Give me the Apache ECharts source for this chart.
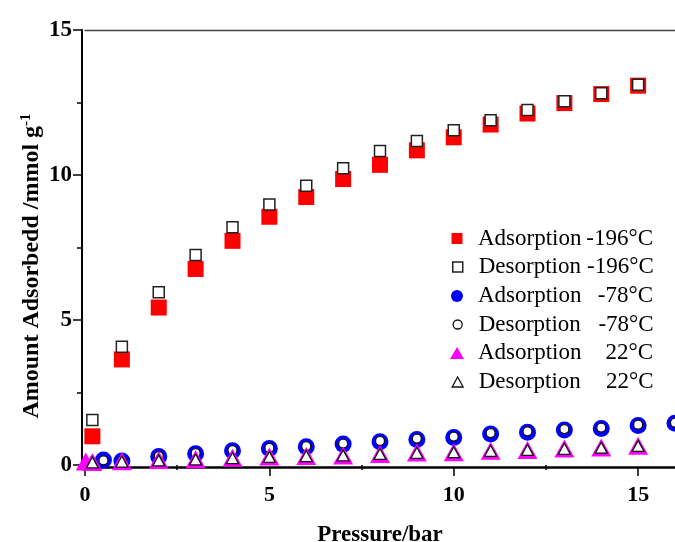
<!DOCTYPE html>
<html>
<head>
<meta charset="utf-8">
<script src="https://cdn.jsdelivr.net/npm/echarts@6/dist/echarts.min.js"></script>
<style>html,body{margin:0;padding:0;background:#fff;}#c{width:675px;height:542px;}</style>
</head>
<body>
<div id="c"></div>
<script>
// ---- data ----
var seriesNames = ['Adsorption -196°C','Desorption -196°C','Adsorption -78°C','Desorption -78°C','Adsorption 22°C','Desorption 22°C'];
var legendParts = [['Adsorption','-196°C'],['Desorption','-196°C'],['Adsorption','-78°C'],['Desorption','-78°C'],['Adsorption','22°C'],['Desorption','22°C']];

var pAds196 = [0.2,1,2,3,4,5,6,7,8,9,10,11,12,13,14,15];
var ads196  = [0.99,3.64,5.43,6.76,7.73,8.56,9.24,9.86,10.35,10.85,11.30,11.74,12.12,12.48,12.79,13.08];
var pDes196 = [0.2,1,2,3,4,5,6,7,8,9,10,11,12,13,14,15];
var des196  = [1.55,4.08,5.96,7.24,8.20,8.98,9.63,10.23,10.83,11.17,11.54,11.89,12.24,12.54,12.82,13.11];

var pAds78 = [0.5,1,2,3,4,5,6,7,8,9,10,11,12,13,14,15,16];
var ads78  = [0.17,0.14,0.29,0.39,0.49,0.57,0.63,0.72,0.80,0.88,0.95,1.07,1.13,1.21,1.26,1.36,1.44];
var pDes78 = [0.5,1,2,3,4,5,6,7,8,9,10,11,12,13,14,15,16];
var des78  = [0.16,0.15,0.31,0.41,0.51,0.59,0.65,0.74,0.83,0.91,0.98,1.10,1.16,1.24,1.29,1.39,1.46];

var pAds22 = [0.02,0.2,1,2,3,4,5,6,7,8,9,10,11,12,13,14,15];
var ads22  = [0.12,0.10,0.13,0.17,0.20,0.25,0.29,0.31,0.33,0.38,0.43,0.44,0.49,0.52,0.57,0.60,0.66];
var pDes22 = [0.2,1,2,3,4,5,6,7,8,9,10,11,12,13,14,15];
var des22  = [0.09,0.12,0.16,0.19,0.24,0.28,0.31,0.33,0.38,0.42,0.44,0.49,0.52,0.56,0.60,0.66];

var xMajorTicks = [0,5,10,15];
var xMinorTicks = [2.5,7.5,12.5];

// ---- build ----
function pairs(xs, ys){ return xs.map(function(x,i){ return [x, ys[i]]; }); }

var serif = 'Liberation Serif';
var styles = [
  {symbol:'rect', size:16, item:{color:'#ff0000', opacity:1}, leg:[11,11]},
  {symbol:'rect', size:11, item:{color:'#ffffff', borderColor:'#222', borderWidth:1.5, opacity:1}, leg:[10,10]},
  {symbol:'circle', size:17, item:{color:'#0000ff', opacity:1}, leg:[12,12]},
  {symbol:'circle', size:9, item:{color:'#ffffff', borderColor:'#111', borderWidth:1.3, opacity:1}, leg:[9,9]},
  {symbol:'triangle', size:[20,18], item:{color:'#ff00ff', opacity:1}, leg:[14,12]},
  {symbol:'triangle', size:[12,11], item:{color:'#ffffff', borderColor:'#111', borderWidth:1.3, opacity:1}, leg:[11,10]}
];
var datas = [pairs(pAds196,ads196), pairs(pDes196,des196), pairs(pAds78,ads78), pairs(pDes78,des78), pairs(pAds22,ads22), pairs(pDes22,des22)];

var series = seriesNames.map(function(n,i){
  return {
    name:n, type:'scatter', xAxisIndex:0, yAxisIndex:0, clip:false,
    symbol:styles[i].symbol, symbolSize:styles[i].size,
    itemStyle:styles[i].item, data:datas[i], z:2+i,
    emphasis:{disabled:true}
  };
});

var rowCenters = [235,263.5,292.5,321,349.5,378.5];
var legends = seriesNames.map(function(n,i){
  var w = styles[i].leg[0], h = styles[i].leg[1];
  return {
    data:[{name:n, icon:styles[i].symbol, itemStyle:styles[i].item}],
    left: 452 - w/2, top: rowCenters[i] - 13,
    itemWidth:w, itemHeight:h, selectedMode:false,
    formatter: function(){ return '{n|' + legendParts[i][0] + '}{t|' + legendParts[i][1] + '}'; },
    textStyle:{
      padding:[0,0,0,16 - w/2],
      rich:{
        n:{fontFamily:serif, fontSize:23, color:'#000', width:104, lineHeight:26},
        t:{fontFamily:serif, fontSize:23, color:'#000', width:71, align:'right', lineHeight:26}
      }
    }
  };
});

var option = {
  animation:false,
  backgroundColor:'#ffffff',
  grid:{left:85, right:0, top:30, bottom:77, containLabel:false, outerBoundsMode:'none'},
  xAxis:[
    {type:'value', position:'bottom', min:0, max:16, interval:5, offset:2,
     name:'Pressure/bar', nameLocation:'middle', nameGap:57,
     nameTextStyle:{fontFamily:serif, fontSize:23, fontWeight:'bold', color:'#000'},
     axisLine:{show:true, onZero:false, lineStyle:{color:'#000', width:2.5}},
     axisTick:{show:true, inside:false, length:9, customValues:xMajorTicks, lineStyle:{color:'#000', width:1.5}},
     axisLabel:{show:true, margin:17, customValues:xMajorTicks, fontFamily:serif, fontSize:22, fontWeight:'bold', color:'#000'},
     splitLine:{show:false}},
    {type:'value', position:'bottom', min:0, max:16, offset:2,
     axisLine:{show:false},
     axisTick:{show:true, inside:false, length:5, customValues:xMinorTicks, lineStyle:{color:'#000', width:1.5}},
     axisLabel:{show:false}, splitLine:{show:false}},
    {type:'value', position:'top', min:0, max:16,
     axisLine:{show:true, onZero:false, lineStyle:{color:'#444', width:1.3}},
     axisTick:{show:false}, axisLabel:{show:false}, splitLine:{show:false}}
  ],
  yAxis:[
    {type:'value', min:0, max:15, interval:5, offset:3,
     axisLine:{show:true, onZero:false, lineStyle:{color:'#000', width:2}},
     axisTick:{show:true, inside:false, length:9, lineStyle:{color:'#000', width:1.5}},
     minorTick:{show:true, splitNumber:2, length:5, lineStyle:{color:'#000', width:1.5}},
     axisLabel:{margin:10, fontFamily:serif, fontSize:23, fontWeight:'bold', color:'#000'},
     splitLine:{show:false}}
  ],
  legend: legends,
  graphic:[{
    type:'text', x:32, y:266, rotation:Math.PI/2,
    style:{
      text:'{a|Amount Adsorbedd /mmol g}{s|-1}',
      align:'center', verticalAlign:'middle',
      rich:{
        a:{fontFamily:serif, fontSize:24, fontWeight:'bold', fill:'#000', lineHeight:26},
        s:{fontFamily:serif, fontSize:15, fontWeight:'bold', fill:'#000', lineHeight:15, verticalAlign:'top'}
      }
    }
  }],
  series: series
};

var chart = echarts.init(document.getElementById('c'), null, {renderer:'canvas'});
chart.setOption(option);
</script>
</body>
</html>
